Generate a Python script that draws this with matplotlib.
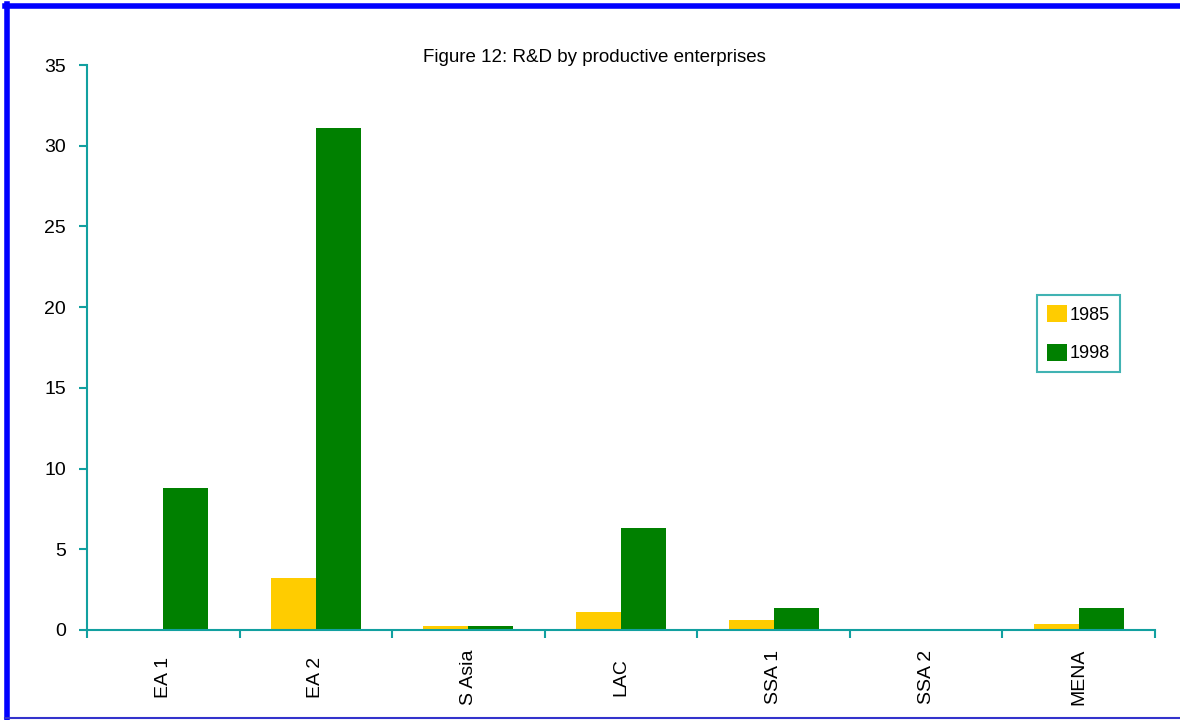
import matplotlib.pyplot as plt
from matplotlib.lines import Line2D
import numpy as np

categories = ['EA 1', 'EA 2', 'S Asia', 'LAC', 'SSA 1', 'SSA 2', 'MENA']
vals_1985 = [0, 3.2, 0.25, 1.1, 0.6, 0, 0.37]
vals_1998 = [8.8, 31.1, 0.25, 6.3, 1.35, 0, 1.35]

teal = '#12A0A0'
plt.rcParams['font.family'] = ['Liberation Sans Narrow', 'Liberation Sans', 'DejaVu Sans']

fig = plt.figure(figsize=(11.8, 7.2), dpi=100)
ax = fig.add_axes([87 / 1180, 90 / 720, (1155 - 87) / 1180, (630 - 65) / 720])

x = np.arange(len(categories))
w = 0.295
ax.bar(x - w / 2, vals_1985, w, color='#FFCC00', label='1985')
ax.bar(x + w / 2, vals_1998, w, color='#008000', label='1998')

ax.set_xlim(-0.5, len(categories) - 0.5)
ax.set_ylim(0, 35)
ax.set_yticks(range(0, 36, 5))
ax.set_xticks(np.arange(-0.5, len(categories), 1))
ax.set_xticklabels([])
ax.set_xticks(x, minor=True)
ax.set_xticklabels(categories, minor=True, rotation=90, fontsize=14, va='center')
ax.tick_params(axis='x', which='minor', length=0, pad=34)
ax.tick_params(axis='x', which='major', length=6, width=1.5, color=teal, direction='out')
ax.tick_params(axis='y', length=6, width=1.5, color=teal, labelsize=14, pad=9)

for s in ['top', 'right']:
    ax.spines[s].set_visible(False)
for s in ['left', 'bottom']:
    ax.spines[s].set_color(teal)
    ax.spines[s].set_linewidth(1.5)

fig.text(594 / 1180, 1 - 57 / 720, 'Figure 12: R&D by productive enterprises',
         ha='center', va='center', fontsize=13.5)

leg = ax.legend(loc='upper left', bbox_to_anchor=(1037 / 1180, 1 - 295 / 720),
                bbox_transform=fig.transFigure, frameon=True, fancybox=False,
                fontsize=13, handlelength=1.1, handleheight=1.1, handletextpad=0.15,
                labelspacing=1.1, borderpad=0.55, borderaxespad=0)
leg.get_frame().set_edgecolor(teal)
leg.get_frame().set_linewidth(1.5)

# blue page border
fig.add_artist(Line2D([0.006, 0.006], [0, 0.994], color='#0000FF', lw=4, transform=fig.transFigure))
fig.add_artist(Line2D([0.004, 1.0], [0.992, 0.992], color='#0000FF', lw=4, transform=fig.transFigure))
fig.add_artist(Line2D([0.004, 1.0], [0.003, 0.003], color='#3333CC', lw=1.5, transform=fig.transFigure))

fig.savefig('out.png', dpi=100)
